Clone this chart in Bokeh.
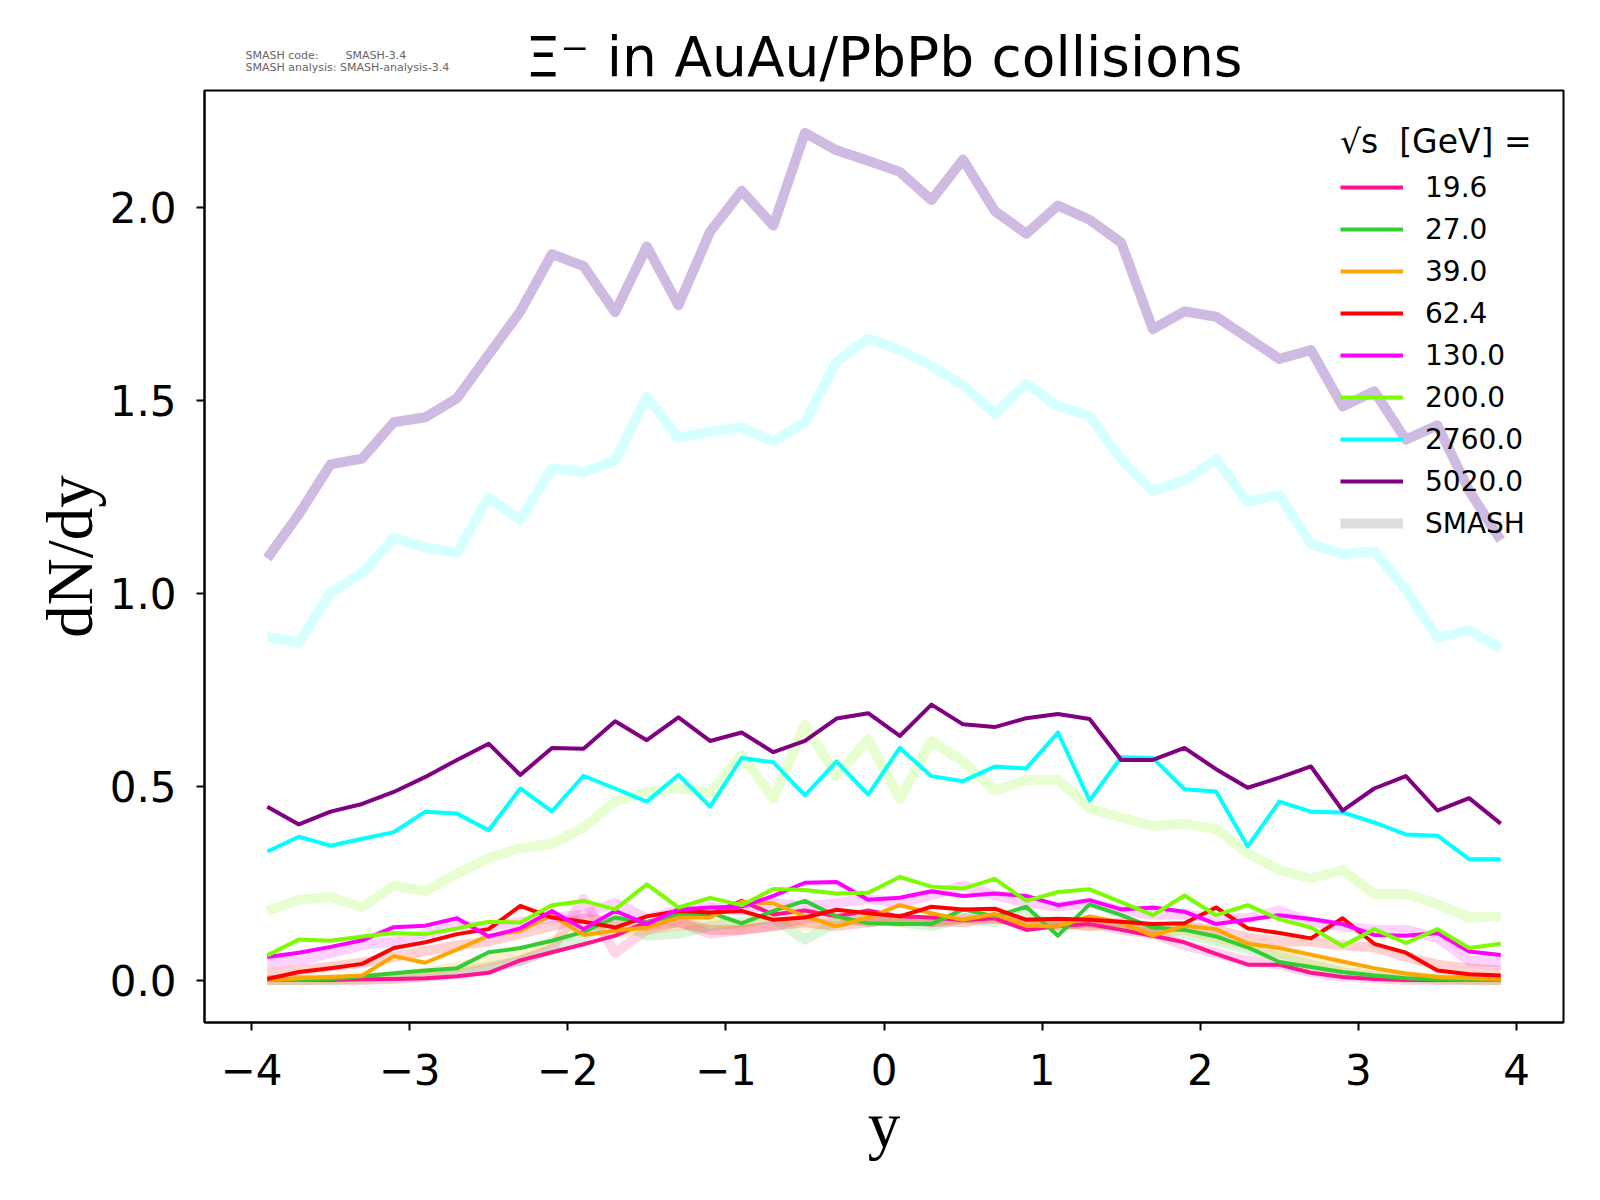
from bokeh.plotting import figure
from bokeh.models import (Range1d, FixedTicker, Legend, LegendItem,
                          PrintfTickFormatter, CustomJSTickFormatter, ColumnDataSource)
from bokeh.layouts import column
from bokeh.core.properties import value
from bokeh.embed import file_html
from bokeh.resources import INLINE

# ---------------- data ----------------
rapidity = [-3.9, -3.7, -3.5, -3.3, -3.1, -2.9, -2.7, -2.5, -2.3, -2.1,
            -1.9, -1.7, -1.5, -1.3, -1.1, -0.9, -0.7, -0.5, -0.3, -0.1,
            0.1, 0.3, 0.5, 0.7, 0.9, 1.1, 1.3, 1.5, 1.7, 1.9,
            2.1, 2.3, 2.5, 2.7, 2.9, 3.1, 3.3, 3.5, 3.7, 3.9]

energies = ["19.6", "27.0", "39.0", "62.4", "130.0", "200.0", "2760.0", "5020.0"]
colors = ["#FF1493", "#32CD32", "#FFA500", "#FF0000", "#FF00FF", "#7CFC00", "#00FFFF", "#800080"]

# thin lines
data_19_6 = [0.0, 0.0, 0.0, 0.002, 0.003, 0.005, 0.010, 0.019, 0.051, 0.072,
             0.093, 0.115, 0.150, 0.170, 0.170, 0.205, 0.170, 0.180, 0.165, 0.180,
             0.165, 0.162, 0.155, 0.160, 0.130, 0.140, 0.145, 0.130, 0.115, 0.098,
             0.068, 0.040, 0.040, 0.019, 0.008, 0.003, 0.0, 0.0, 0.0, 0.0]
data_27_0 = [0.0, 0.0, 0.003, 0.010, 0.018, 0.025, 0.031, 0.072, 0.083, 0.102,
             0.125, 0.162, 0.149, 0.171, 0.175, 0.147, 0.179, 0.205, 0.165, 0.147,
             0.145, 0.145, 0.183, 0.165, 0.190, 0.115, 0.196, 0.168, 0.136, 0.130,
             0.113, 0.085, 0.047, 0.034, 0.021, 0.012, 0.005, 0.002, 0.0, 0.0]
data_39_0 = [0.0, 0.005, 0.008, 0.012, 0.062, 0.045, 0.079, 0.115, 0.128, 0.168,
             0.117, 0.128, 0.136, 0.162, 0.162, 0.202, 0.199, 0.165, 0.139, 0.162,
             0.194, 0.173, 0.156, 0.171, 0.141, 0.139, 0.165, 0.149, 0.115, 0.141,
             0.132, 0.094, 0.083, 0.066, 0.048, 0.031, 0.017, 0.008, 0.005, 0.003]
data_62_4 = [0.003, 0.021, 0.031, 0.042, 0.083, 0.098, 0.119, 0.132, 0.192, 0.162,
             0.151, 0.136, 0.165, 0.179, 0.175, 0.179, 0.156, 0.162, 0.182, 0.173,
             0.165, 0.190, 0.183, 0.185, 0.156, 0.159, 0.156, 0.151, 0.145, 0.147,
             0.188, 0.134, 0.122, 0.108, 0.160, 0.094, 0.071, 0.025, 0.015, 0.012]
data_130_0 = [0.060, 0.071, 0.086, 0.103, 0.137, 0.141, 0.160, 0.113, 0.134, 0.179,
              0.132, 0.179, 0.145, 0.183, 0.188, 0.190, 0.218, 0.252, 0.254, 0.208,
              0.213, 0.230, 0.218, 0.224, 0.218, 0.194, 0.207, 0.183, 0.188, 0.177,
              0.145, 0.156, 0.168, 0.158, 0.145, 0.117, 0.115, 0.122, 0.074, 0.065]
data_200_0 = [0.064, 0.105, 0.102, 0.113, 0.122, 0.119, 0.134, 0.151, 0.149, 0.194,
              0.205, 0.183, 0.248, 0.188, 0.213, 0.194, 0.236, 0.233, 0.224, 0.226,
              0.267, 0.242, 0.237, 0.262, 0.205, 0.228, 0.235, 0.202, 0.168, 0.219,
              0.168, 0.194, 0.158, 0.136, 0.088, 0.132, 0.096, 0.132, 0.083, 0.094]
data_2760_0 = [0.333, 0.371, 0.348, 0.366, 0.383, 0.436, 0.431, 0.388, 0.496, 0.437,
               0.529, 0.496, 0.462, 0.531, 0.449, 0.575, 0.564, 0.478, 0.566, 0.480,
               0.601, 0.528, 0.515, 0.553, 0.548, 0.641, 0.465, 0.577, 0.575, 0.494,
               0.488, 0.346, 0.462, 0.436, 0.434, 0.408, 0.377, 0.374, 0.313, 0.313]
data_5020_0 = [0.449, 0.403, 0.436, 0.456, 0.487, 0.526, 0.570, 0.612, 0.531, 0.601,
               0.599, 0.670, 0.621, 0.680, 0.619, 0.641, 0.590, 0.619, 0.677, 0.691,
               0.632, 0.713, 0.662, 0.655, 0.678, 0.689, 0.676, 0.570, 0.570, 0.601,
               0.546, 0.498, 0.524, 0.553, 0.439, 0.496, 0.528, 0.439, 0.471, 0.405]

# thick SMASH lines
smash_19_6 = [0.0, 0.0, 0.0, 0.0, 0.003, 0.008, 0.015, 0.030, 0.050, 0.080,
              0.210, 0.070, 0.130, 0.150, 0.120, 0.130, 0.140, 0.160, 0.170, 0.150,
              0.160, 0.150, 0.150, 0.160, 0.150, 0.140, 0.150, 0.130, 0.120, 0.090,
              0.070, 0.050, 0.040, 0.020, 0.010, 0.005, 0.0, 0.0, 0.0, 0.0]
smash_27_0 = [0.0, 0.0, 0.0, 0.002, 0.005, 0.010, 0.020, 0.035, 0.050, 0.080,
              0.110, 0.160, 0.115, 0.120, 0.140, 0.150, 0.160, 0.105, 0.150, 0.160,
              0.150, 0.140, 0.160, 0.150, 0.170, 0.140, 0.150, 0.140, 0.130, 0.120,
              0.100, 0.080, 0.060, 0.040, 0.020, 0.010, 0.005, 0.002, 0.0, 0.0]
smash_39_0 = [0.0, 0.0, 0.002, 0.005, 0.010, 0.020, 0.035, 0.050, 0.070, 0.100,
              0.140, 0.120, 0.130, 0.140, 0.150, 0.140, 0.170, 0.140, 0.150, 0.160,
              0.150, 0.160, 0.150, 0.170, 0.140, 0.150, 0.140, 0.140, 0.120, 0.130,
              0.110, 0.090, 0.070, 0.050, 0.035, 0.020, 0.010, 0.005, 0.002, 0.0]
smash_62_4 = [0.020, 0.025, 0.035, 0.045, 0.060, 0.075, 0.090, 0.100, 0.120, 0.140,
              0.160, 0.150, 0.140, 0.150, 0.130, 0.130, 0.140, 0.150, 0.140, 0.150,
              0.160, 0.150, 0.160, 0.160, 0.150, 0.150, 0.140, 0.150, 0.130, 0.140,
              0.130, 0.110, 0.100, 0.100, 0.090, 0.085, 0.060, 0.040, 0.030, 0.025]
smash_130_0 = [0.045, 0.050, 0.070, 0.090, 0.100, 0.120, 0.140, 0.140, 0.150, 0.160,
               0.170, 0.200, 0.160, 0.180, 0.190, 0.180, 0.200, 0.190, 0.200, 0.210,
               0.200, 0.220, 0.245, 0.220, 0.200, 0.190, 0.200, 0.180, 0.170, 0.170,
               0.160, 0.160, 0.180, 0.150, 0.140, 0.130, 0.130, 0.110, 0.050, 0.047]
smash_200_0 = [0.179, 0.208, 0.215, 0.188, 0.245, 0.230, 0.276, 0.316, 0.342, 0.353,
               0.395, 0.463, 0.487, 0.497, 0.484, 0.583, 0.469, 0.661, 0.528, 0.623,
               0.469, 0.619, 0.566, 0.491, 0.518, 0.518, 0.445, 0.421, 0.399, 0.405,
               0.390, 0.329, 0.285, 0.263, 0.285, 0.223, 0.223, 0.197, 0.162, 0.165]
smash_2760_0 = [0.889, 0.874, 1.003, 1.054, 1.144, 1.120, 1.107, 1.250, 1.191, 1.325,
                1.315, 1.345, 1.510, 1.404, 1.419, 1.431, 1.394, 1.444, 1.602, 1.661,
                1.631, 1.590, 1.539, 1.466, 1.544, 1.485, 1.462, 1.348, 1.266, 1.293,
                1.348, 1.238, 1.256, 1.129, 1.103, 1.110, 1.010, 0.887, 0.905, 0.859]
smash_5020_0 = [1.092, 1.206, 1.335, 1.350, 1.444, 1.457, 1.506, 1.619, 1.731, 1.879,
                1.848, 1.729, 1.899, 1.747, 1.937, 2.043, 1.953, 2.193, 2.148, 2.121,
                2.092, 2.019, 2.124, 1.991, 1.932, 2.005, 1.968, 1.909, 1.685, 1.731,
                1.717, 1.663, 1.608, 1.631, 1.485, 1.524, 1.399, 1.436, 1.267, 1.139]

data_series = [data_19_6, data_27_0, data_39_0, data_62_4, data_130_0,
               data_200_0, data_2760_0, data_5020_0]
smash_series = [smash_19_6, smash_27_0, smash_39_0, smash_62_4, smash_130_0,
                smash_200_0, smash_2760_0, smash_5020_0]
smash_colors = ["#FF1493", "#32CD32", "#FFA500", "#FF0000", "#FF00FF", "#7CFC00", "#00FFFF", "#9467BD"]
smash_alphas = [0.18, 0.18, 0.18, 0.18, 0.18, 0.18, 0.16, 0.45]

x_ticks = [-4, -3, -2, -1, 0, 1, 2, 3, 4]
y_ticks = [0.0, 0.5, 1.0, 1.5, 2.0]

title_text = "Ξ⁻ in AuAu/PbPb collisions"
info_lines = ["SMASH code:", "SMASH-3.4", "SMASH analysis: SMASH-analysis-3.4"]

W = 1584
HEAD_H = 89
FRAME_L = 204
FRAME_R = 1563

# ---------------- header (title + version info) ----------------
# its frame is aligned with the main frame by the column layout
head = figure(width=W, height=HEAD_H, output_backend="svg", toolbar_location=None,
              x_range=Range1d(FRAME_L, FRAME_R), y_range=Range1d(0, HEAD_H),
              x_axis_location=None, y_axis_location=None, min_border=0)
head.grid.visible = False
head.outline_line_color = None
head.title = None
head.text(x=[(FRAME_L + FRAME_R) / 2], y=[1], text=[title_text],
          text_font=value("DejaVu Sans"), text_font_size=value("55px"),
          text_color="black", text_align="center", text_baseline="bottom")
head.text(x=[245, 345, 245], y=[34, 34, 22], text=info_lines,
          text_font=value("DejaVu Sans"), text_font_size=value("11px"),
          text_color="#666666", text_align="left", text_baseline="middle")

# ---------------- main plot ----------------
p = figure(width=W, height=1095, output_backend="svg", toolbar_location=None,
           x_range=Range1d(-4.297, 4.297), y_range=Range1d(-0.1097, 2.3027),
           min_border_left=FRAME_L, min_border_right=W - FRAME_R, min_border_top=1,
           min_border_bottom=162)
p.title = None
p.grid.visible = False
p.outline_line_color = "black"
p.outline_line_width = 2

for ax in (p.xaxis, p.yaxis):
    ax.axis_line_width = 2
    ax.major_tick_line_width = 2
    ax.major_tick_out = 8
    ax.major_tick_in = 0
    ax.minor_tick_line_color = None
    ax.major_label_text_font = "DejaVu Sans"
    ax.major_label_text_font_size = "42px"
    ax.major_label_text_color = "black"
    ax.axis_label_text_font = "Liberation Serif"
    ax.axis_label_text_font_size = "65px"
    ax.axis_label_text_font_style = "normal"
    ax.axis_label_text_color = "black"

p.xaxis.ticker = FixedTicker(ticks=x_ticks)
p.xaxis.formatter = CustomJSTickFormatter(
    code="return tick < 0 ? '\\u2212' + Math.abs(tick).toString() : tick.toString();")
p.xaxis.major_label_standoff = 23
p.xaxis.axis_label = "y"
p.xaxis.axis_label_standoff = 1

p.yaxis.ticker = FixedTicker(ticks=y_ticks)
p.yaxis.formatter = PrintfTickFormatter(format="%.1f")
p.yaxis.major_label_standoff = 20
p.yaxis.axis_label = "dN/dy"
p.yaxis.axis_label_standoff = 1

# thick SMASH lines first
for vals, c, a in zip(smash_series, smash_colors, smash_alphas):
    src = ColumnDataSource(dict(x=rapidity, y=vals))
    p.line("x", "y", source=src, line_color=c, line_alpha=a, line_width=10,
           line_join="round")

items = []
for vals, c, lab in zip(data_series, colors, energies):
    src = ColumnDataSource(dict(x=rapidity, y=vals))
    r = p.line("x", "y", source=src, line_color=c, line_width=4, line_join="round")
    items.append(LegendItem(label=lab, renderers=[r]))

nan = float("nan")
dummy = p.line(x=[nan], y=[nan], line_color="#DDDDDD", line_width=10)
items.append(LegendItem(label="SMASH", renderers=[dummy]))

legend = Legend(items=items, location=(1136, 478), padding=0, margin=0,
                border_line_alpha=0, background_fill_alpha=0,
                label_text_font="DejaVu Sans", label_text_font_size="28px",
                label_text_color="black",
                glyph_width=63, glyph_height=42, label_height=42, spacing=0,
                label_standoff=22,
                title="√s  [GeV] =", title_text_font="DejaVu Sans",
                title_text_font_size="33px", title_text_font_style="normal",
                title_text_color="black", title_standoff=5)
p.add_layout(legend)

layout = column(head, p, spacing=0)
open("out.html", "w").write(file_html(layout, INLINE))
